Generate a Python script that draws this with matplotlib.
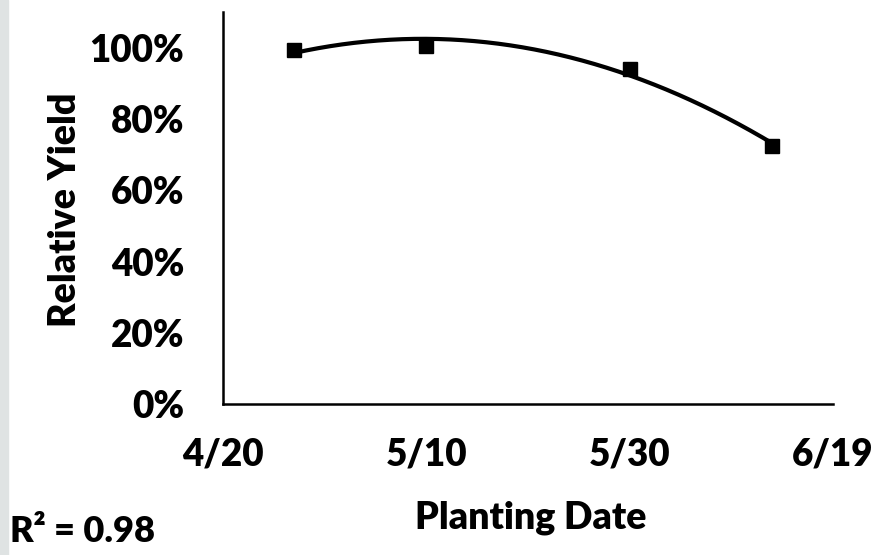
import datetime as dt

import matplotlib

matplotlib.use("Agg")
import matplotlib.dates as mdates  # noqa: E402
import matplotlib.pyplot as plt  # noqa: E402
import numpy as np  # noqa: E402
from matplotlib.patches import Rectangle  # noqa: E402
from matplotlib.ticker import FuncFormatter  # noqa: E402

# Planting dates and relative yield
planting_dates = ["2019-04-27", "2019-05-10", "2019-05-30", "2019-06-13"]
relative_yield = [0.994, 1.006, 0.941, 0.725]
x_ticks = ["2019-04-20", "2019-05-10", "2019-05-30", "2019-06-19"]
y_ticks = [0.0, 0.2, 0.4, 0.6, 0.8, 1.0]
r_squared = "0.98"

plt.rcParams["font.family"] = ["Lato", "DejaVu Sans"]
WEIGHT = "heavy"

dates = [dt.datetime.fromisoformat(d) for d in planting_dates]
xnum = mdates.date2num(dates)

fig = plt.figure(figsize=(8.77, 5.55), dpi=100)
fig.patches.append(
    Rectangle((0, 0), 8 / 877, 1, transform=fig.transFigure,
              color="#dfe3e3", zorder=0)
)
ax = fig.add_axes([0.2543, 0.272, 0.6955, 0.706])

# Second-order polynomial trendline, spanning the data range
coef = np.polyfit(xnum, relative_yield, 2)
xs = np.linspace(xnum[0], xnum[-1], 200)
ax.plot(xs, np.polyval(coef, xs), color="black", lw=3, solid_capstyle="butt")
ax.plot(xnum, relative_yield, "s", color="black", markersize=10)

tick_nums = mdates.date2num([dt.datetime.fromisoformat(d) for d in x_ticks])
ax.set_xlim(tick_nums[0], tick_nums[-1])
ax.set_ylim(0, 1.1)
ax.set_xticks(tick_nums)
ax.set_xticklabels([f"{d.month}/{d.day}" for d in mdates.num2date(tick_nums)])
ax.set_yticks(y_ticks)
ax.yaxis.set_major_formatter(FuncFormatter(lambda v, _: f"{v:.0%}"))
ax.tick_params(length=0, labelsize=26.5)
ax.tick_params(axis="y", pad=28)
ax.tick_params(axis="x", pad=24)
for lab in ax.get_xticklabels() + ax.get_yticklabels():
    lab.set_fontweight(WEIGHT)

for side in ("top", "right"):
    ax.spines[side].set_visible(False)
for side in ("left", "bottom"):
    ax.spines[side].set_linewidth(1.8)

fig.text(65 / 877, 1 - 210 / 555, "Relative Yield", rotation=90,
         ha="center", va="center", fontsize=27, fontweight=WEIGHT)
fig.text(531 / 877, 1 - 518 / 555, "Planting Date",
         ha="center", va="center", fontsize=27, fontweight=WEIGHT)
fig.text(10 / 877, 1 - 532 / 555, f"R\u00b2 = {r_squared}",
         ha="left", va="center", fontsize=26, fontweight=WEIGHT)

fig.savefig("out.png", dpi=100)
